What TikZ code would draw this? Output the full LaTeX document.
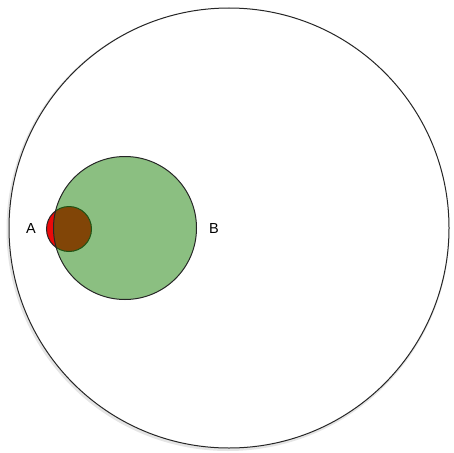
\documentclass[tikz,border=0pt]{standalone}
\usepackage{fontspec}
\setmainfont{Liberation Sans}
\definecolor{greenbase}{RGB}{25,129,5}
\definecolor{redbase}{RGB}{235,10,10}
\begin{document}
\begin{tikzpicture}[x=1pt,y=-1pt,
  outline/.style={draw=black!85, line width=1pt},
  lbl/.style={font=\fontsize{14.5}{16}\selectfont, inner sep=0pt}]
\useasboundingbox (0,0) rectangle (454,452);
\fill[black!10] (228,229.5) circle (221.5);
\node[outline, circle, fill=white, minimum size=440pt, inner sep=0pt] (U) at (229,228) {};
\node[outline, circle, fill=redbase, minimum size=45pt, inner sep=0pt] (A) at (69,229) {};
\node[outline, circle, fill=greenbase, fill opacity=0.5, minimum size=143pt, inner sep=0pt] (B) at (125,228) {};
\node[lbl] (la) at (31,229) {A};
\node[lbl] (lb) at (214,229) {B};
\end{tikzpicture}
\end{document}
